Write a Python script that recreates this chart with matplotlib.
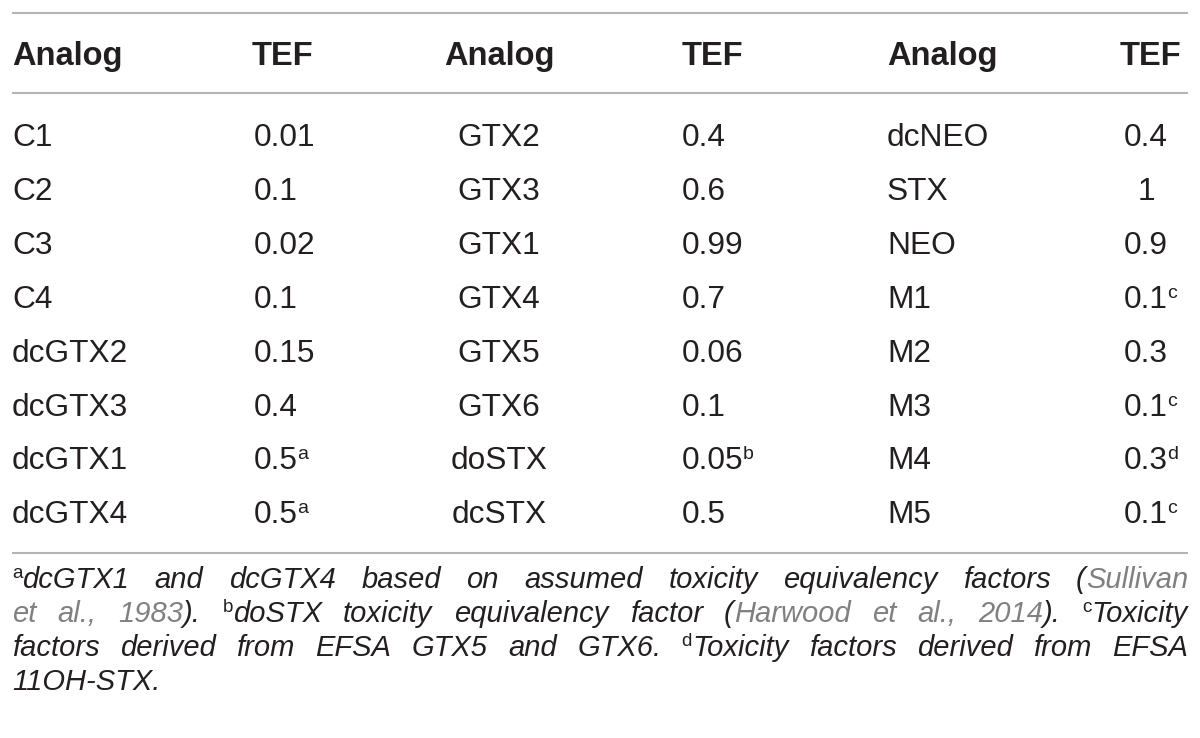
import matplotlib
matplotlib.use('Agg')
import matplotlib.pyplot as plt

# table content
header = ['Analog', 'TEF', 'Analog', 'TEF', 'Analog', 'TEF']
analog1 = ['C1', 'C2', 'C3', 'C4', 'dcGTX2', 'dcGTX3', 'dcGTX1', 'dcGTX4']
tef1 = ['0.01', '0.1', '0.02', '0.1', '0.15', '0.4', '0.5', '0.5']
sup1 = ['', '', '', '', '', '', 'a', 'a']
analog2 = ['GTX2', 'GTX3', 'GTX1', 'GTX4', 'GTX5', 'GTX6', 'doSTX', 'dcSTX']
tef2 = ['0.4', '0.6', '0.99', '0.7', '0.06', '0.1', '0.05', '0.5']
sup2 = ['', '', '', '', '', '', 'b', '']
analog3 = ['dcNEO', 'STX', 'NEO', 'M1', 'M2', 'M3', 'M4', 'M5']
tef3 = ['0.4', '1', '0.9', '0.1', '0.3', '0.1', '0.3', '0.1']
sup3 = ['', '', '', 'c', '', 'c', 'd', 'c']

# footnote lines: (text, style) pieces, style n=black italic, g=grey italic, s=superscript
foot = [
    [('a', 's'), ('dcGTX1 and dcGTX4 based on assumed toxicity equivalency factors (', 'n'),
     ('Sullivan', 'g')],
    [('et al., 1983', 'g'), ('). ', 'n'), ('b', 's'), ('doSTX toxicity equivalency factor (', 'n'),
     ('Harwood et al., 2014', 'g'), ('). ', 'n'), ('c', 's'), ('Toxicity', 'n')],
    [('factors derived from EFSA GTX5 and GTX6. ', 'n'), ('d', 's'),
     ('Toxicity factors derived from EFSA', 'n')],
    [('11OH-STX.', 'n')],
]

FONT = 'Liberation Sans'
INK = '#231f20'
GREY = '#808080'
RULE = '#b4b4b4'
W, H = 1200, 738
BODY = 22.8

fig = plt.figure(figsize=(12, 7.38), dpi=100)
ax = fig.add_axes([0, 0, 1, 1])
ax.set_xlim(0, W)
ax.set_ylim(H, 0)
ax.axis('off')
fig.canvas.draw()
renderer = fig.canvas.get_renderer()


def width_px(t):
    return t.get_window_extent(renderer).width


def put(x, y, s, size=BODY, weight='normal', style='normal', color=INK, ha='left'):
    return ax.text(x, y, s, fontsize=size, fontweight=weight, fontstyle=style,
                   color=color, ha=ha, va='baseline', family=FONT)


def put_sup(t, y, s, size=14):
    # superscript right after an existing text
    bb = t.get_window_extent(renderer)
    put(bb.x1 - 1, y - 10, s, size=size)


# rules
for yy in [13, 93, 553]:
    ax.plot([12, 1188], [yy, yy], color=RULE, lw=1.5, solid_capstyle='butt')

# header
hx = [12, 252, 499, 682, 887, 1150]
hha = ['left', 'left', 'center', 'left', 'left', 'center']
for s, x, a in zip(header, hx, hha):
    put(x, 65, s, size=23.5, weight='bold', ha=a)

# body
row0, step = 146, 53.9
for i in range(len(analog1)):
    y = row0 + step * i
    put(12, y, analog1[i])
    t = put(254, y, tef1[i])
    if sup1[i]:
        put_sup(t, y, sup1[i])
    put(499, y, analog2[i], ha='center')
    t = put(682, y, tef2[i])
    if sup2[i]:
        put_sup(t, y, sup2[i])
    put(887, y, analog3[i])
    t = put(1146, y, tef3[i], ha='center')
    if sup3[i]:
        put_sup(t, y, sup3[i])

# footnotes, justified
FS = 21
left, right = 12, 1188
base = [588, 622, 656, 690]


def piece_words(line):
    # group pieces into words (split on spaces, keep style)
    words = [[]]
    for txt, st in line:
        parts = txt.split(' ')
        for k, p in enumerate(parts):
            if k > 0:
                words.append([])
            if p:
                words[-1].append((p, st))
    return [w for w in words if w]


def draw_piece(x, y, p, st):
    if st == 's':
        t = ax.text(x, y - 10, p, fontsize=13.5, color=INK, ha='left', va='baseline', family=FONT)
    else:
        t = ax.text(x, y, p, fontsize=FS, fontstyle='italic', color=GREY if st == 'g' else INK,
                    ha='left', va='baseline', family=FONT)
    return t


for li, line in enumerate(foot):
    y = base[li]
    words = piece_words(line)
    wsum = []
    for w in words:
        tot = 0
        for p, st in w:
            t = draw_piece(0, y, p, st)
            tot += width_px(t)
            t.remove()
        wsum.append(tot)
    if li < len(foot) - 1 and len(words) > 1:
        gap = (right - left - sum(wsum)) / (len(words) - 1)
    else:
        sp = draw_piece(0, y, 'a a', 'n')
        sp2 = draw_piece(0, y, 'aa', 'n')
        gap = width_px(sp) - width_px(sp2)
        sp.remove()
        sp2.remove()
    x = left
    for w in words:
        for p, st in w:
            t = draw_piece(x, y, p, st)
            x += width_px(t)
        x += gap

fig.savefig('out.png', dpi=100, facecolor='white')
